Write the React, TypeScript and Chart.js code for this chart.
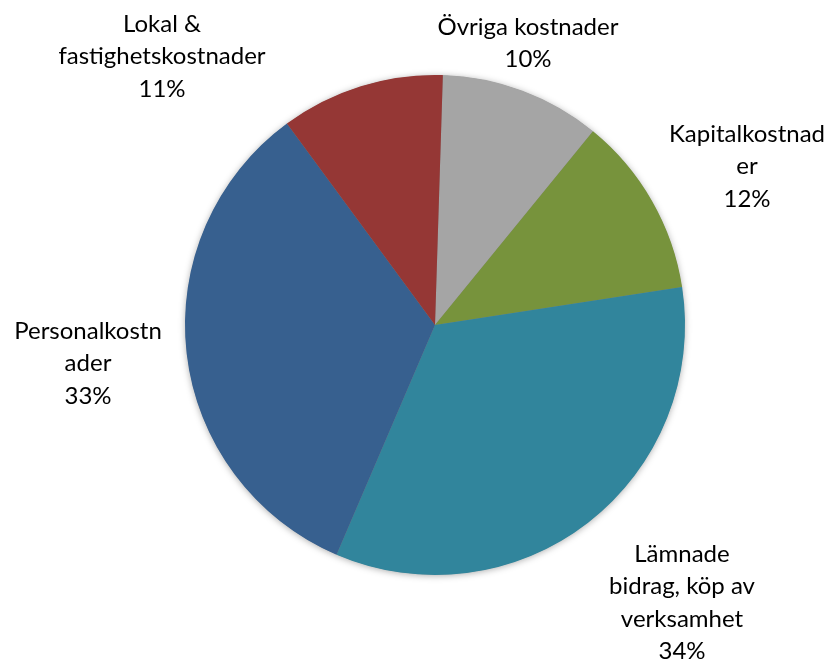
import React, { useEffect, useRef } from "react";
import { Chart, registerables } from "chart.js";

Chart.register(...registerables);

const categories: string[][] = [
  ["Övriga kostnader"],
  ["Kapitalkostnad", "er"],
  ["Lämnade", "bidrag, köp av", "verksamhet"],
  ["Personalkostn", "ader"],
  ["Lokal &", "fastighetskostnader"],
];
const values: number[] = [10.4, 11.7, 33.9, 33.5, 10.6];
const colors: string[] = ["#a5a5a5", "#77933c", "#31859c", "#37608f", "#953735"];

// label anchor (center x, first line center y) for each slice
const labelAnchors: [number, number][] = [
  [528, 27],
  [747, 134],
  [682, 554],
  [88, 331],
  [162, 24],
];

const FONT = "24px Lato, 'Liberation Sans', sans-serif";
const LINE_H = 32.5;

const shadowPlugin = {
  id: "pieShadow",
  beforeDatasetsDraw(chart: any) {
    const meta = chart.getDatasetMeta(0);
    const arc = meta.data[0];
    if (!arc) return;
    const { x, y, outerRadius } = arc.getProps(["x", "y", "outerRadius"], true);
    const ctx = chart.ctx;
    ctx.save();
    ctx.shadowColor = "rgba(0,0,0,0.35)";
    ctx.shadowBlur = 7;
    ctx.shadowOffsetX = 0;
    ctx.shadowOffsetY = 1;
    ctx.fillStyle = "#888";
    ctx.beginPath();
    ctx.arc(x, y, outerRadius - 0.5, 0, Math.PI * 2);
    ctx.fill();
    ctx.restore();
  },
};

const labelPlugin = {
  id: "outerLabels",
  afterDatasetsDraw(chart: any) {
    const ctx = chart.ctx;
    const data = chart.data.datasets[0].data as number[];
    const total = data.reduce((a, b) => a + b, 0);
    ctx.save();
    ctx.font = FONT;
    ctx.fillStyle = "#000";
    ctx.textAlign = "center";
    ctx.textBaseline = "middle";
    data.forEach((v, i) => {
      const lines = [...categories[i], Math.round((v / total) * 100) + "%"];
      const [cx, cy] = labelAnchors[i];
      lines.forEach((l, j) => ctx.fillText(l, cx, cy + j * LINE_H));
    });
    ctx.restore();
  },
};

export default function App() {
  const ref = useRef<HTMLCanvasElement | null>(null);
  useEffect(() => {
    if (!ref.current) return;
    const chart = new Chart(ref.current, {
      type: "pie",
      data: {
        labels: categories.map((c) => c.join(" ")),
        datasets: [
          {
            data: values,
            backgroundColor: colors,
            borderWidth: 0,
          },
        ],
      },
      options: {
        responsive: false,
        animation: false,
        rotation: 1.8,
        layout: { padding: { left: 185, right: 146, top: 75, bottom: 84 } },
        plugins: {
          legend: { display: false },
          tooltip: { enabled: false },
        },
      },
      plugins: [shadowPlugin, labelPlugin],
    });
    return () => chart.destroy();
  }, []);
  return (
    <div style={{ position: "absolute", left: 0, top: 0, width: 831, height: 659, background: "#fff" }}>
      <canvas ref={ref} width={831} height={659} />
    </div>
  );
}
